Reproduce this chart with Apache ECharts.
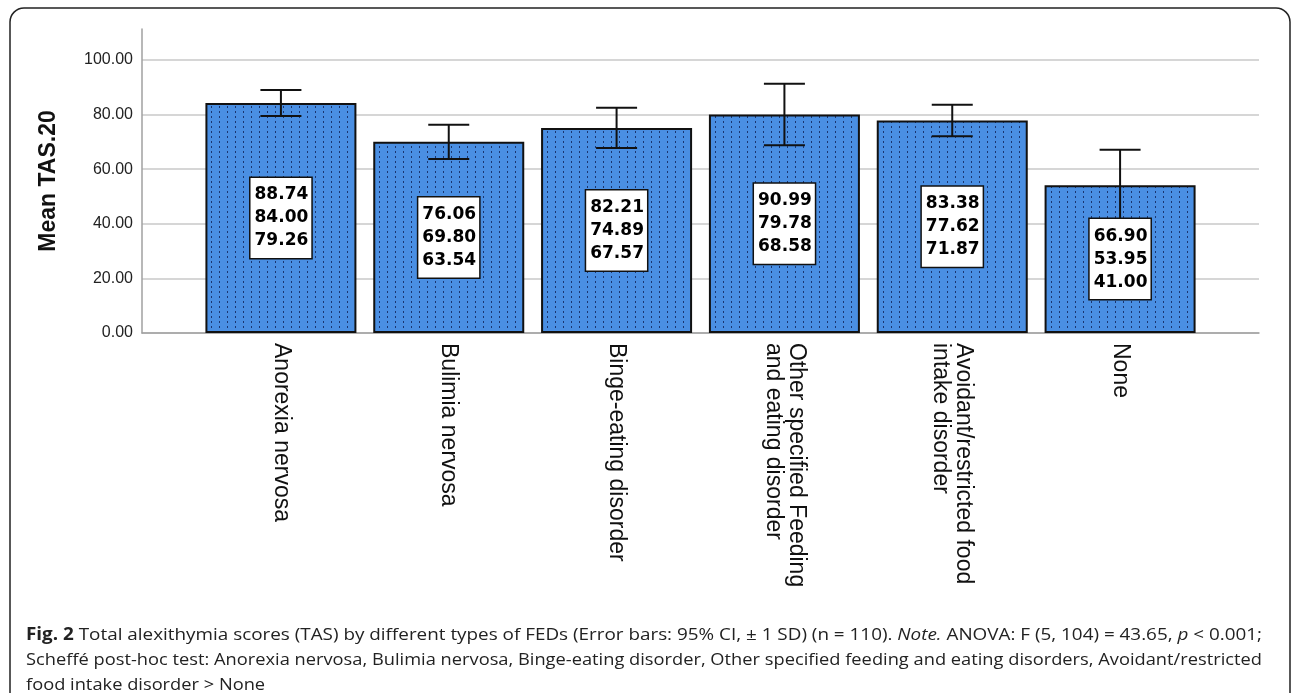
<!DOCTYPE html>
<html><head><meta charset="utf-8">
<script src="https://cdn.jsdelivr.net/npm/echarts@6/dist/echarts.min.js"></script>
<style>html,body{margin:0;padding:0;background:#fff}#c{width:1292px;height:693px}</style>
</head><body><div id="c"></div>
<script>
const categories = ['Anorexia nervosa','Bulimia nervosa','Binge-eating disorder','Other specified Feeding\nand eating disorder','Avoidant/restricted food\nintake disorder','None'];
const means = [84.00, 69.80, 74.89, 79.78, 77.62, 53.95];
const upper = [88.74, 76.06, 82.21, 90.99, 83.38, 66.90];
const lower = [79.26, 63.54, 67.57, 68.58, 71.87, 41.00];
const yTicks = [0, 20, 40, 60, 80, 100];
const captionLines = [
  '{b|Fig. 2} Total alexithymia scores (TAS) by different types of FEDs (Error bars: 95% CI, \u00b1 1 SD) (n = 110). {i|Note.} ANOVA: F (5, 104) = 43.65, {i|p} < 0.001;',
  'Scheff\u00e9 post-hoc test: Anorexia nervosa, Bulimia nervosa, Binge-eating disorder, Other specified feeding and eating disorders, Avoidant/restricted',
  'food intake disorder > None'
];

const pc = document.createElement('canvas'); pc.width = 8; pc.height = 5;
const g = pc.getContext('2d');
g.fillStyle = '#4a8fe3'; g.fillRect(0, 0, 8, 5);
g.fillStyle = '#1a3570'; g.fillRect(3, 1, 1, 2);

const YMAX = 111;
const capFont = '"Open Sans", sans-serif';
const capSize = 17;
const mc = document.createElement('canvas').getContext('2d');
function lineW(t) {
  let w = 0, last = 0, m;
  const re = /\{(\w)\|([^}]*)\}/g;
  while ((m = re.exec(t))) {
    mc.font = capSize + 'px ' + capFont; w += mc.measureText(t.slice(last, m.index)).width;
    mc.font = (m[1] === 'b' ? 'bold ' : 'italic ') + capSize + 'px ' + capFont; w += mc.measureText(m[2]).width;
    last = re.lastIndex;
  }
  mc.font = capSize + 'px ' + capFont; w += mc.measureText(t.slice(last)).width;
  return w;
}
const capTarget = 1236;
const sx = [capTarget / lineW(captionLines[0]), capTarget / lineW(captionLines[1])];
const captionGraphics = captionLines.map((t, k) => ({
  type: 'text', x: 26, y: 635 + k * 25, scaleX: k < 2 ? sx[k] : sx[1], z: 10, silent: true,
  style: {
    text: t, fill: '#222', font: capSize + 'px ' + capFont, verticalAlign: 'middle',
    rich: {
      b: {fontWeight: 'bold', fontSize: capSize, fontFamily: capFont, fill: '#222'},
      i: {fontStyle: 'italic', fontSize: capSize, fontFamily: capFont, fill: '#222'}
    }
  }
}));

const chart = echarts.init(document.getElementById('c'), null, {renderer: 'canvas'});
chart.setOption({
  animation: false,
  grid: [
    {left: 142, right: 33, top: 29, bottom: 360},
    {left: 142, right: 33, top: 60, bottom: 360},
    {left: 197, right: 88, top: 29, bottom: 360}
  ],
  xAxis: [
    {gridIndex: 0, type: 'value', min: 0, max: 1, axisLine: {show: true, onZero: false, lineStyle: {color: '#a0a0a0', width: 1.5}}, axisTick: {show: false}, axisLabel: {show: false}, splitLine: {show: false}},
    {gridIndex: 1, type: 'value', min: 0, max: 1, show: false},
    {gridIndex: 2, type: 'category', data: categories, axisLine: {show: false}, axisTick: {show: false},
     axisLabel: {interval: 0, rotate: -90, margin: 10, color: '#111', fontFamily: '"Liberation Sans", Arial', fontSize: 23, lineHeight: 23}}
  ],
  yAxis: [
    {gridIndex: 0, type: 'value', min: 0, max: YMAX, name: 'Mean TAS.20', nameLocation: 'middle', nameGap: 82,
     nameTextStyle: {fontFamily: '"Liberation Sans", Arial', fontWeight: 'bold', fontSize: 23, color: '#111'},
     axisLine: {show: true, lineStyle: {color: '#a0a0a0', width: 1.5}}, axisTick: {show: false}, axisLabel: {show: false}, splitLine: {show: false}},
    {gridIndex: 1, type: 'value', min: yTicks[0], max: yTicks[yTicks.length - 1], interval: yTicks[1] - yTicks[0],
     axisLine: {show: false}, axisTick: {show: false},
     axisLabel: {margin: 9, color: '#222', fontFamily: '"Liberation Sans", Arial', fontSize: 16, formatter: v => v.toFixed(2)},
     splitLine: {show: true, lineStyle: {color: '#c8c8c8', width: 1.5}}},
    {gridIndex: 2, type: 'value', min: 0, max: YMAX, show: false}
  ],
  graphic: [
    {type: 'rect', shape: {x: 10, y: 8, width: 1280, height: 740, r: 14}, style: {fill: 'none', stroke: '#222', lineWidth: 1.5}, z: 10, silent: true}
  ].concat(captionGraphics),
  series: [
    {type: 'bar', xAxisIndex: 2, yAxisIndex: 2, data: means, barWidth: 151, barGap: '-100%', z: 2, silent: true,
     itemStyle: {color: {image: pc, repeat: 'repeat'}, borderColor: '#111', borderWidth: 2}},
    {type: 'custom', xAxisIndex: 2, yAxisIndex: 2, z: 3, silent: true,
     data: categories.map((c, i) => [i, lower[i], upper[i]]),
     renderItem: (params, api) => {
       const x = api.coord([api.value(0), 0])[0];
       const lo = api.coord([api.value(0), api.value(1)])[1];
       const hi = api.coord([api.value(0), api.value(2)])[1];
       const w = 20.5;
       const st = {stroke: '#111', lineWidth: 2};
       return {type: 'group', children: [
         {type: 'line', shape: {x1: x, y1: lo, x2: x, y2: hi}, style: st},
         {type: 'line', shape: {x1: x - w, y1: hi, x2: x + w, y2: hi}, style: st},
         {type: 'line', shape: {x1: x - w, y1: lo, x2: x + w, y2: lo}, style: st}
       ]};
     }},
    {type: 'bar', xAxisIndex: 2, yAxisIndex: 2, data: means, barWidth: 151, barGap: '-100%', z: 4, silent: true,
     itemStyle: {color: 'rgba(0,0,0,0)'},
     label: {show: true, position: 'inside', color: '#000', fontFamily: '"DejaVu Sans", Verdana', fontWeight: 'bold', fontSize: 17, lineHeight: 23,
       backgroundColor: '#fff', borderColor: '#111', borderWidth: 1.5, padding: [6, 3, 5, 4],
       formatter: p => [upper[p.dataIndex], means[p.dataIndex], lower[p.dataIndex]].map(v => v.toFixed(2)).join('\n')}}
  ]
});
</script></body></html>
